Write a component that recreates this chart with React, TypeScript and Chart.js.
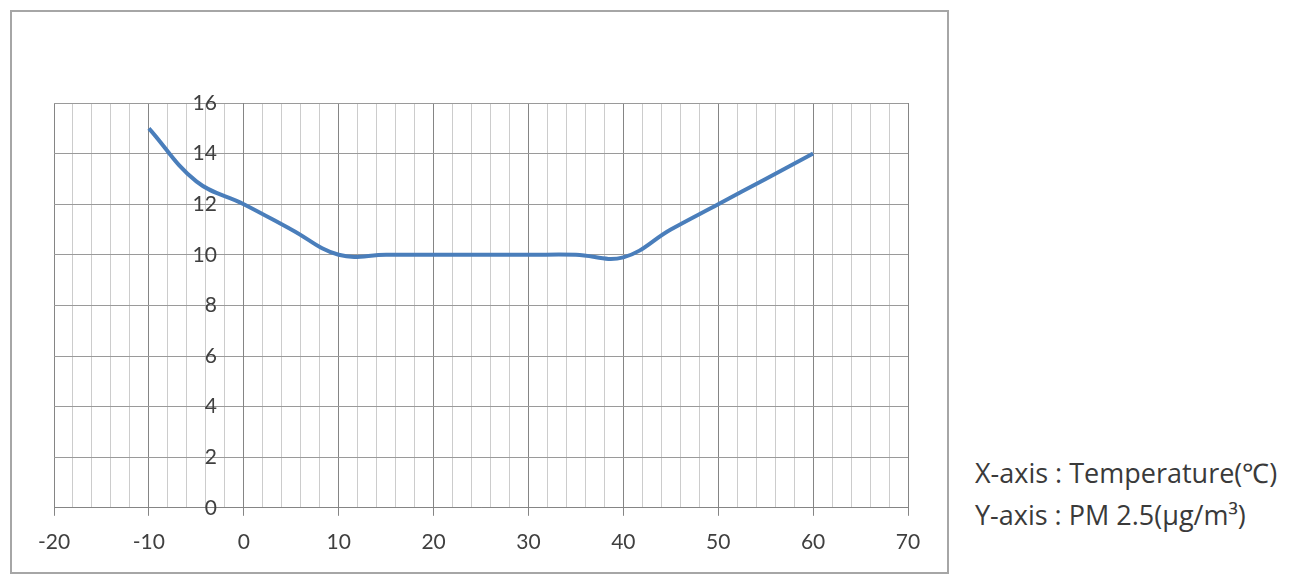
import React, { useEffect, useRef } from 'react';
import Chart from 'chart.js/auto';

// Temperature (°C) vs PM 2.5 (µg/m³)
const temperatures = [-10, -5, 0, 5, 10, 15, 20, 25, 30, 35, 40, 45, 50, 55, 60];
const pm25 = [15, 12.9, 12, 11, 10, 10, 10, 10, 10, 10, 9.9, 11, 12, 13, 14];

const xMin = -20;
const xMax = 70;
const yMin = 0;
const yMax = 16;

const axisNotes = ['X-axis : Temperature(℃)', 'Y-axis : PM 2.5(µg/m³)'];

const majorGrid = '#858585';
const minorGrid = '#cccccc';
const tickFont = { family: 'Lato, "Open Sans", sans-serif', size: 21 };

const PmChart: React.FC = () => {
  const canvasRef = useRef<HTMLCanvasElement | null>(null);
  const chartInstance = useRef<Chart | null>(null);

  useEffect(() => {
    if (!canvasRef.current) return;
    const ctx = canvasRef.current.getContext('2d');
    if (!ctx) return;

    chartInstance.current = new Chart(ctx, {
      type: 'line',
      data: {
        datasets: [
          {
            label: 'PM 2.5',
            data: temperatures.map((t, i) => ({ x: t, y: pm25[i] })),
            borderColor: '#4a7ebb',
            borderWidth: 4,
            pointRadius: 0,
            tension: 0.4,
            fill: false,
          },
        ],
      },
      options: {
        animation: false,
        responsive: true,
        maintainAspectRatio: false,
        layout: { padding: { left: 42, right: 39, top: 91, bottom: 3 } },
        plugins: { legend: { display: false }, tooltip: { enabled: false } },
        scales: {
          x: {
            type: 'linear',
            min: xMin,
            max: xMax,
            ticks: {
              stepSize: 2,
              autoSkip: false,
              maxRotation: 0,
              padding: 14,
              color: '#404040',
              font: tickFont,
              callback: (v) => (Number(v) % 10 === 0 ? String(v) : ''),
            },
            grid: {
              color: (c) => (c.tick && c.tick.value % 10 === 0 ? majorGrid : minorGrid),
              tickColor: (c) => (c.tick && c.tick.value % 10 === 0 ? majorGrid : 'transparent'),
              tickLength: 8,
              lineWidth: 1,
            },
            border: { color: majorGrid, width: 1 },
          },
          y: {
            type: 'linear',
            min: yMin,
            max: yMax,
            position: { x: 0 },
            afterFit: (scale) => {
              scale.width = 0;
            },
            ticks: {
              stepSize: 2,
              color: '#404040',
              font: tickFont,
              // labels sit a little left of the crossing axis
              callback: (v) => `${v}     `,
            },
            grid: {
              color: '#9a9a9a',
              drawTicks: false,
              lineWidth: 1,
            },
            border: { color: majorGrid, width: 1 },
          },
        },
      },
    });

    return () => {
      if (chartInstance.current) {
        chartInstance.current.destroy();
        chartInstance.current = null;
      }
    };
  }, []);

  return <canvas ref={canvasRef} />;
};

export default function App() {
  return (
    <div style={{ position: 'fixed', left: 0, top: 0, width: 1300, height: 588, background: '#fff' }}>
      <div
        style={{
          position: 'absolute',
          left: 10,
          top: 10,
          width: 935,
          height: 560,
          border: '2px solid #a6a6a6',
        }}
      >
        <PmChart />
      </div>
      <div
        style={{
          position: 'absolute',
          left: 975,
          top: 452,
          fontFamily: '"Open Sans", Lato, sans-serif',
          fontSize: 27,
          lineHeight: '42px',
          color: '#3a3a3a',
          whiteSpace: 'nowrap',
        }}
      >
        {axisNotes.map((t) => (
          <div key={t}>{t}</div>
        ))}
      </div>
    </div>
  );
}
